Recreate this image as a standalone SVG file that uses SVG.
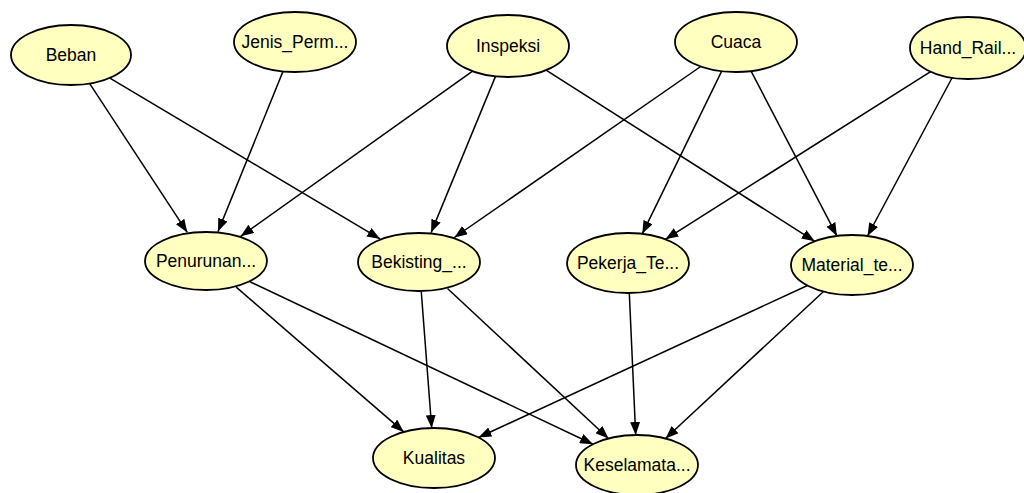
<svg xmlns="http://www.w3.org/2000/svg" width="1024" height="493" viewBox="0 0 1024 493">
  <style>
    .node ellipse { fill: #FFFFC0; stroke: #000; stroke-width: 1.8; }
    .node text { font-family: "Liberation Sans", Arial, sans-serif; font-size: 17.5px; fill: #000; text-anchor: middle; dominant-baseline: central; }
    .edges line { stroke: #000; stroke-width: 1.5; marker-end: url(#arrow); }
  </style>
  <defs>
    <marker id="arrow" markerUnits="userSpaceOnUse" markerWidth="13" markerHeight="10" refX="13" refY="5" orient="auto">
      <path d="M0,0 L13,5 L0,10 z" fill="#000"/>
    </marker>
  </defs>
  <rect width="1024" height="493" fill="#fff"/>

  <g class="edges">
    <line x1="89.7" y1="83.6" x2="187.3" y2="232.4"/>
    <line x1="109.9" y1="78.1" x2="380.1" y2="238.9"/>
    <line x1="283" y1="71.4" x2="218" y2="231.6"/>
    <line x1="473.3" y1="70.7" x2="240.7" y2="236.3"/>
    <line x1="495.9" y1="75.4" x2="431.1" y2="232.6"/>
    <line x1="545.3" y1="69.7" x2="814.7" y2="241.3"/>
    <line x1="700.7" y1="66.5" x2="454.3" y2="237.5"/>
    <line x1="721.7" y1="71.2" x2="642.3" y2="233.8"/>
    <line x1="751.1" y1="71.1" x2="836.9" y2="235.9"/>
    <line x1="930.6" y1="71.7" x2="665.4" y2="239.3"/>
    <line x1="952.5" y1="77" x2="867.5" y2="236"/>
    <line x1="236.2" y1="287.1" x2="403.8" y2="431.9"/>
    <line x1="250" y1="281.8" x2="593" y2="444.2"/>
    <line x1="421.3" y1="292" x2="431.7" y2="428"/>
    <line x1="447.5" y1="288.5" x2="608.5" y2="438.5"/>
    <line x1="629.3" y1="293" x2="635.7" y2="435"/>
    <line x1="807.5" y1="285.5" x2="478.5" y2="437.5"/>
    <line x1="823.5" y1="291.5" x2="665.5" y2="438.5"/>
  </g>

  <g id="beban" class="node"><ellipse cx="71" cy="55" rx="60" ry="30"/><text x="71" y="55">Beban</text></g>
  <g id="jenis_perm" class="node"><ellipse cx="295" cy="42" rx="61" ry="30"/><text x="295" y="42">Jenis_Perm...</text></g>
  <g id="inspeksi" class="node"><ellipse cx="508" cy="46" rx="61" ry="31"/><text x="508" y="46">Inspeksi</text></g>
  <g id="cuaca" class="node"><ellipse cx="736" cy="42" rx="61" ry="30"/><text x="736" y="42">Cuaca</text></g>
  <g id="hand_rail" class="node"><ellipse cx="968" cy="48" rx="58" ry="31"/><text x="968" y="48">Hand_Rail...</text></g>
  <g id="penurunan" class="node"><ellipse cx="206" cy="261" rx="61" ry="29"/><text x="206" y="261">Penurunan...</text></g>
  <g id="bekisting" class="node"><ellipse cx="419" cy="262" rx="61" ry="29"/><text x="419" y="262">Bekisting_...</text></g>
  <g id="pekerja" class="node"><ellipse cx="628" cy="263" rx="61" ry="30"/><text x="628" y="263">Pekerja_Te...</text></g>
  <g id="material" class="node"><ellipse cx="852" cy="265" rx="61" ry="30"/><text x="852" y="265">Material_te...</text></g>
  <g id="kualitas" class="node"><ellipse cx="434" cy="458" rx="61" ry="30"/><text x="434" y="458">Kualitas</text></g>
  <g id="keselamatan" class="node"><ellipse cx="637" cy="465" rx="61" ry="30"/><text x="637" y="465">Keselamata...</text></g>
</svg>
